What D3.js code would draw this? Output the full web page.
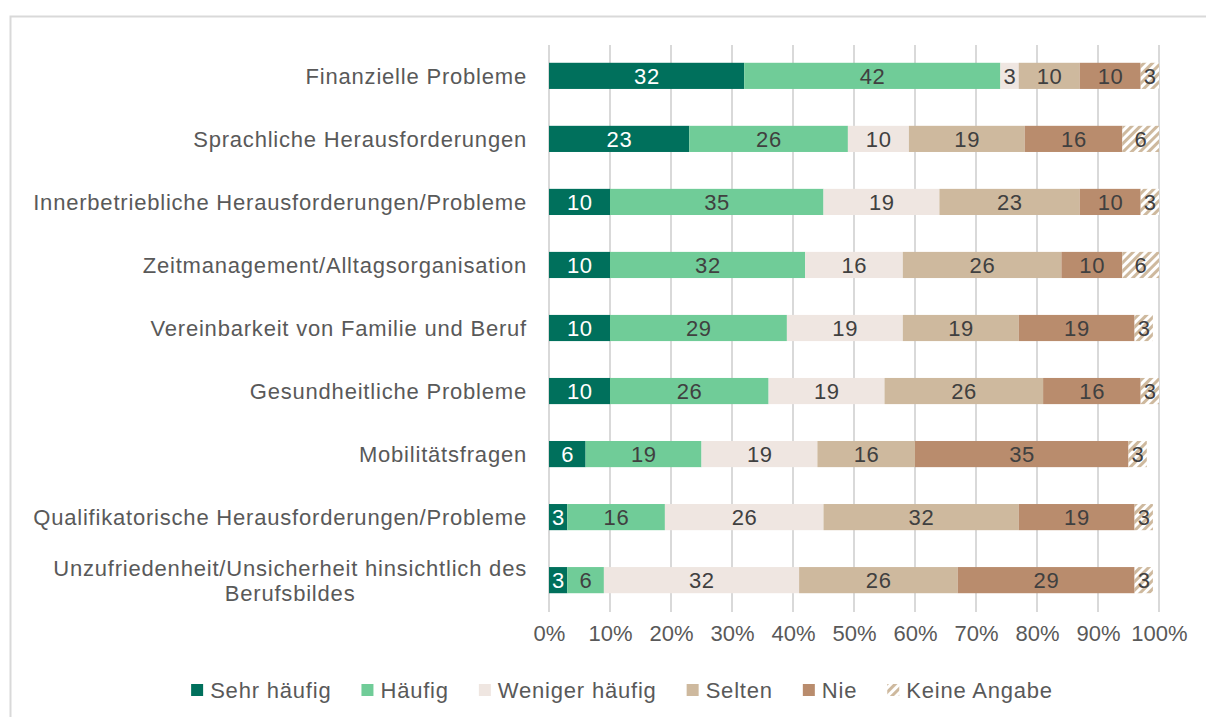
<!DOCTYPE html>
<html>
<head>
<meta charset="utf-8">
<script src="https://cdn.jsdelivr.net/npm/d3@7"></script>
<style>
  body { margin: 0; background: #fff; }
  svg { font-family: "Liberation Sans", Arial, sans-serif; }
</style>
</head>
<body>
<div id="chart"></div>
<script>
const categories = [
    'Finanzielle Probleme',
    'Sprachliche Herausforderungen',
    'Innerbetriebliche Herausforderungen/Probleme',
    'Zeitmanagement/Alltagsorganisation',
    'Vereinbarkeit von Familie und Beruf',
    'Gesundheitliche Probleme',
    'Mobilitätsfragen',
    'Qualifikatorische Herausforderungen/Probleme',
    'Unzufriedenheit/Unsicherheit hinsichtlich des\nBerufsbildes'
];
const seriesNames = ['Sehr häufig', 'Häufig', 'Weniger häufig', 'Selten', 'Nie', 'Keine Angabe'];
const sehrHaeufig = [32, 23, 10, 10, 10, 10, 6, 3, 3];
const haeufig = [42, 26, 35, 32, 29, 26, 19, 16, 6];
const wenigerHaeufig = [3, 10, 19, 16, 19, 19, 19, 26, 32];
const selten = [10, 19, 23, 26, 19, 26, 16, 32, 26];
const nie = [10, 16, 10, 10, 19, 16, 35, 19, 29];
const keineAngabe = [3, 6, 3, 6, 3, 3, 3, 3, 3];
const ticks = [0, 10, 20, 30, 40, 50, 60, 70, 80, 90, 100];

const series = [sehrHaeufig, haeufig, wenigerHaeufig, selten, nie, keineAngabe];
const colors = ['#00705C', '#70CC98', '#EFE6E1', '#CEB99E', '#B98C6D', 'url(#hatch)'];
const labelColors = ['#ffffff', '#404040', '#404040', '#404040', '#404040', '#404040'];

const W = 1206, H = 717;
const svg = d3.select('#chart').append('svg')
    .attr('width', W).attr('height', H);

const defs = svg.append('defs');
const pat = defs.append('pattern')
    .attr('id', 'hatch')
    .attr('patternUnits', 'userSpaceOnUse')
    .attr('width', 6).attr('height', 6)
    .attr('patternTransform', 'rotate(45)');
pat.append('rect').attr('width', 6).attr('height', 6).attr('fill', '#ffffff');
pat.append('rect').attr('width', 3).attr('height', 6).attr('fill', '#CEB99E');

// outer frame
svg.append('rect')
    .attr('x', 10.5).attr('y', 16.5)
    .attr('width', W + 20).attr('height', H + 20)
    .attr('fill', 'none').attr('stroke', '#d9d9d9').attr('stroke-width', 2);

const x = d3.scaleLinear().domain([0, 100]).range([549, 1159]);
const y = d3.scaleBand().domain(categories).range([44.5, 611.5]).paddingInner(0.585).paddingOuter(0.29);

// gridlines
svg.append('g')
    .selectAll('line')
    .data(ticks)
    .join('line')
    .attr('x1', d => x(d)).attr('x2', d => x(d))
    .attr('y1', 45).attr('y2', 612)
    .attr('stroke', '#d9d9d9').attr('stroke-width', 2);

// x axis labels
const xAxis = svg.append('g')
    .attr('transform', 'translate(0,612)')
    .call(d3.axisBottom(x).tickValues(ticks).tickFormat(d => d + '%').tickSize(0).tickPadding(13));
xAxis.select('.domain').remove();
xAxis.selectAll('text')
    .attr('font-size', 22).attr('fill', '#595959')
    .attr('font-family', '"Liberation Sans", Arial, sans-serif');

// stacked data
const rows = categories.map((c, i) => {
    let acc = 0;
    return series.map((s, k) => {
        const seg = { cat: c, k, v: s[i], x0: acc, x1: acc + s[i] };
        acc += s[i];
        return seg;
    });
});

const bars = svg.append('g');
rows.forEach(row => {
    const g = bars.append('g');
    g.selectAll('rect')
        .data(row)
        .join('rect')
        .attr('x', d => x(d.x0))
        .attr('y', d => y(d.cat))
        .attr('width', d => x(d.x1) - x(d.x0))
        .attr('height', y.bandwidth())
        .attr('fill', d => colors[d.k]);
    g.selectAll('text')
        .data(row)
        .join('text')
        .attr('x', d => (x(d.x0) + x(d.x1)) / 2 + 0.3)
        .attr('y', d => y(d.cat) + y.bandwidth() / 2)
        .attr('dy', '0.36em')
        .attr('text-anchor', 'middle')
        .attr('font-size', 22)
        .attr('letter-spacing', 0.6)
        .attr('fill', d => labelColors[d.k])
        .text(d => d.v);
});

// category labels
const catG = svg.append('g');
const catStyle = t => t.attr('font-size', 22).attr('letter-spacing', 0.8).attr('fill', '#595959');
categories.forEach(c => {
    const lines = c.split('\n');
    const cy = y(c) + y.bandwidth() / 2;
    const t = catStyle(catG.append('text'));
    if (lines.length === 1) {
        t.attr('x', 527).attr('y', cy).attr('dy', '0.36em')
            .attr('text-anchor', 'end').text(c);
    } else {
        // measure widest line, center lines within block
        const probe = catStyle(catG.append('text')).text(lines[0]);
        const w = probe.node().getComputedTextLength();
        probe.remove();
        const mid = 527 - w / 2;
        t.attr('text-anchor', 'middle');
        lines.forEach((ln, j) => {
            t.append('tspan')
                .attr('x', mid)
                .attr('y', cy + (j - (lines.length - 1) / 2) * 25)
                .attr('dy', '0.36em')
                .text(ln);
        });
    }
});

// legend
const legend = svg.append('g');
let lx = 0;
seriesNames.forEach((n, k) => {
    const g = legend.append('g');
    g.append('rect').attr('x', 0).attr('y', -6).attr('width', 12).attr('height', 12).attr('fill', colors[k]);
    const t = catStyle(g.append('text')).attr('x', 19).attr('y', 0).attr('dy', '0.36em').text(n);
    const w = 19 + t.node().getComputedTextLength();
    g.attr('transform', `translate(${lx},690)`);
    lx += w + 30;
});
const totalW = lx - 30;
legend.attr('transform', `translate(${622 - totalW / 2},0)`);
</script>
</body>
</html>
